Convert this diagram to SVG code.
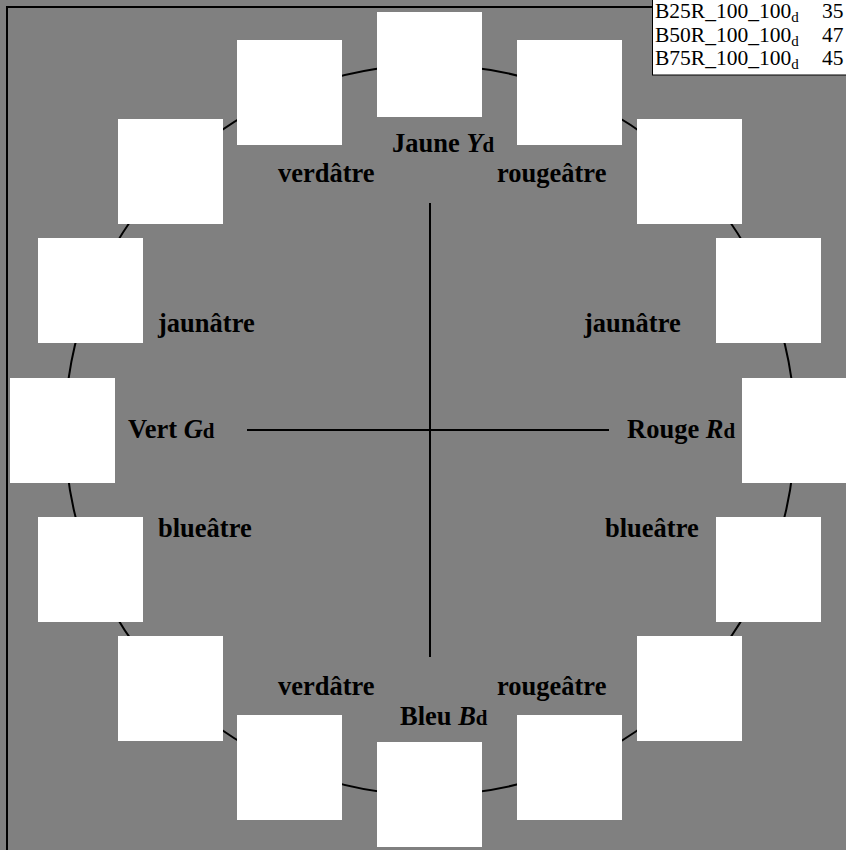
<svg xmlns="http://www.w3.org/2000/svg" width="846" height="850" viewBox="0 0 846 850">
<style>
.lbl{font-family:"Liberation Serif","Times New Roman",serif;font-weight:bold;font-size:26.5px;fill:#000}
.sub{font-size:21px}
.tb{font-family:"Liberation Serif","Times New Roman",serif;font-size:21.5px;fill:#000}
.sq{fill:#fff}
.ln{stroke:#000;stroke-width:2;fill:none}
</style>
<rect x="0" y="0" width="846" height="850" fill="#808080"/>
<rect x="7" y="7" width="900" height="900" fill="none" stroke="#000" stroke-width="2"/>
<g id="connectors">
<circle class="ln" cx="430" cy="430" r="365"/>
<line class="ln" x1="430" y1="203" x2="430" y2="657"/>
<line class="ln" x1="247" y1="430" x2="609" y2="430"/>
</g>
<g id="squares">
<rect id="s0" class="sq" x="377" y="12" width="105" height="105"/>
<rect id="s1" class="sq" x="517" y="40" width="105" height="105"/>
<rect id="s2" class="sq" x="637" y="119" width="105" height="105"/>
<rect id="s3" class="sq" x="716" y="238" width="105" height="105"/>
<rect id="s4" class="sq" x="742" y="378" width="105" height="105"/>
<rect id="s5" class="sq" x="716" y="517" width="105" height="105"/>
<rect id="s6" class="sq" x="637" y="636" width="105" height="105"/>
<rect id="s7" class="sq" x="517" y="715" width="105" height="105"/>
<rect id="s8" class="sq" x="377" y="742" width="105" height="105"/>
<rect id="s9" class="sq" x="237" y="715" width="105" height="105"/>
<rect id="s10" class="sq" x="118" y="636" width="105" height="105"/>
<rect id="s11" class="sq" x="38" y="517" width="105" height="105"/>
<rect id="s12" class="sq" x="10" y="378" width="105" height="105"/>
<rect id="s13" class="sq" x="38" y="238" width="105" height="105"/>
<rect id="s14" class="sq" x="118" y="119" width="105" height="105"/>
<rect id="s15" class="sq" x="237" y="40" width="105" height="105"/>
</g>
<g id="labels">
<text class="lbl" x="392" y="152">Jaune <tspan font-style="italic">Y</tspan><tspan class="sub">d</tspan></text>
<text class="lbl" x="278" y="182">verdâtre</text>
<text class="lbl" x="497" y="182">rougeâtre</text>
<text class="lbl" x="158" y="332">jaunâtre</text>
<text class="lbl" x="584" y="332">jaunâtre</text>
<text class="lbl" x="128" y="438">Vert <tspan font-style="italic">G</tspan><tspan class="sub">d</tspan></text>
<text class="lbl" x="627" y="438">Rouge <tspan font-style="italic">R</tspan><tspan class="sub">d</tspan></text>
<text class="lbl" x="158" y="537">blueâtre</text>
<text class="lbl" x="605" y="537">blueâtre</text>
<text class="lbl" x="278" y="695">verdâtre</text>
<text class="lbl" x="497" y="695">rougeâtre</text>
<text class="lbl" x="400" y="725">Bleu <tspan font-style="italic">B</tspan><tspan class="sub">d</tspan></text>
</g>
<g id="table">
<rect x="652.5" y="-1" width="200" height="76" fill="#fff" stroke="#000" stroke-width="1"/>
<text class="tb" x="655" y="18">B25R_100_100<tspan font-size="15" dy="4">d</tspan></text>
<text class="tb" x="822" y="18">35</text>
<text class="tb" x="655" y="41.5">B50R_100_100<tspan font-size="15" dy="4">d</tspan></text>
<text class="tb" x="822" y="41.5">47</text>
<text class="tb" x="655" y="65">B75R_100_100<tspan font-size="15" dy="4">d</tspan></text>
<text class="tb" x="822" y="65">45</text>
</g>
</svg>
